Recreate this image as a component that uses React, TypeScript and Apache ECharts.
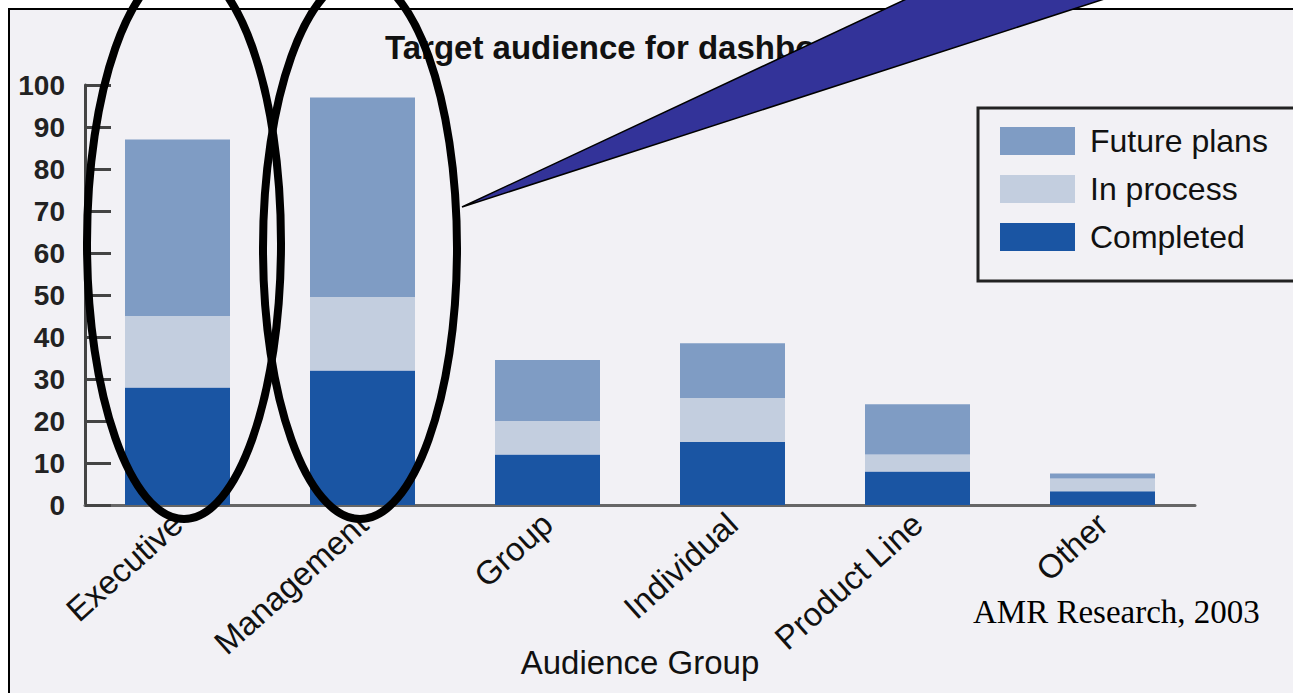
import React, { useEffect, useRef } from "react";
import * as echarts from "echarts";

const categories = ["Executive", "Management", "Group", "Individual", "Product Line", "Other"];
const completed = [28, 32, 12, 15, 8, 3.3];
const inProcess = [17, 17.5, 8, 10.5, 4, 3];
const futurePlans = [42, 47.5, 14.5, 13, 12, 1.2];
const yTicks = { min: 0, max: 100, interval: 10 };

const SANS = "'Liberation Sans', Arial, Helvetica, sans-serif";
const SERIF = "'Liberation Serif', 'Times New Roman', serif";

export default function App() {
  const ref = useRef<HTMLDivElement>(null);
  useEffect(() => {
    document.body.style.margin = "0";
    const chart = echarts.init(ref.current!, null, { renderer: "svg" });
    const barBase = { type: "bar", stack: "total", barWidth: 105 };
    chart.setOption({
      animation: false,
      backgroundColor: "#ffffff",
      title: {
        text: "Target audience for dashboards",
        left: 380,
        top: 26,
        textStyle: { fontFamily: SANS, fontSize: 33, fontWeight: "bold", color: "#111" },
      },
      legend: {
        orient: "vertical",
        left: 978,
        top: 108,
        data: ["Future plans", "In process", "Completed"],
        itemWidth: 75,
        itemHeight: 28,
        itemGap: 16,
        icon: "rect",
        padding: [17, 35, 28, 22],
        borderColor: "#222",
        borderWidth: 3,
        backgroundColor: "#f2f1f5",
        textStyle: { fontFamily: SANS, fontSize: 32, color: "#111", padding: [0, 0, 0, 10] },
      },
      grid: { left: 85, right: 98, top: 85, bottom: 188, containLabel: false, outerBoundsMode: "none" },
      xAxis: {
        type: "category",
        data: categories,
        name: "Audience Group",
        nameLocation: "middle",
        nameGap: 141,
        nameMoveOverlap: false,
        nameTextStyle: { fontFamily: SANS, fontSize: 33, color: "#111" },
        axisLine: { lineStyle: { color: "#666", width: 3 } },
        axisTick: { inside: true, length: 9, lineStyle: { color: "#111", width: 3 } },
        axisLabel: { rotate: 42, margin: 14, fontFamily: SANS, fontSize: 33, color: "#111", interval: 0 },
      },
      yAxis: {
        type: "value",
        min: yTicks.min,
        max: yTicks.max,
        interval: yTicks.interval,
        splitLine: { show: false },
        axisLine: { show: true, lineStyle: { color: "#444", width: 3 } },
        axisTick: { show: true, inside: true, length: 26, lineStyle: { color: "#444", width: 3 } },
        axisLabel: { margin: 20, fontFamily: SANS, fontSize: 28, fontWeight: "bold", color: "#222" },
      },
      series: [
        { ...barBase, name: "Completed", data: completed, itemStyle: { color: "#1a55a3" } },
        { ...barBase, name: "In process", data: inProcess, itemStyle: { color: "#c3cedf" } },
        { ...barBase, name: "Future plans", data: futurePlans, itemStyle: { color: "#7f9cc4" } },
      ],
      graphic: {
        elements: [
          {
            type: "rect",
            z: -10,
            shape: { x: 9, y: 9, width: 1300, height: 700 },
            style: { fill: "#f2f1f5", stroke: "#000", lineWidth: 2 },
            silent: true,
          },
          {
            type: "polygon",
            z: 100,
            shape: { points: [[462, 207], [947, -20], [1163, -20]] },
            style: { fill: "#333399", stroke: "#000", lineWidth: 1.5 },
          },
          {
            type: "ellipse",
            z: 100,
            shape: { cx: 184, cy: 243, rx: 97, ry: 276 },
            style: { fill: "none", stroke: "#000", lineWidth: 8 },
          },
          {
            type: "ellipse",
            z: 100,
            shape: { cx: 360, cy: 248, rx: 97, ry: 271 },
            style: { fill: "none", stroke: "#000", lineWidth: 8 },
          },
          {
            type: "text",
            z: 100,
            x: 973,
            y: 612,
            style: {
              text: "AMR Research, 2003",
              fontFamily: SERIF,
              fontSize: 33,
              fill: "#000",
              textVerticalAlign: "middle",
              verticalAlign: "middle",
            },
          },
        ],
      },
    });
    return () => chart.dispose();
  }, []);
  return <div ref={ref} style={{ position: "absolute", left: 0, top: 0, width: 1293, height: 693 }} />;
}
